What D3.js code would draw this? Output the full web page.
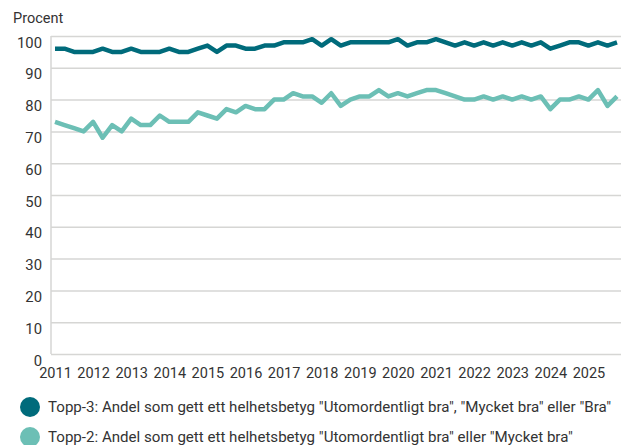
<!DOCTYPE html>
<html>
<head>
<meta charset="utf-8">
<script src="https://cdn.jsdelivr.net/npm/d3@7"></script>
<style>
  body { margin: 0; background: #fff; }
  text { font-family: Roboto, "Noto Sans", sans-serif; fill: #333; }
</style>
</head>
<body>
<script>

// quarterly values, 2011 Q1 .. 2025 Q4
const years = [2011, 2012, 2013, 2014, 2015, 2016, 2017, 2018, 2019, 2020, 2021, 2022, 2023, 2024, 2025];

const topp3 = [96, 96, 95, 95, 95, 96, 95, 95, 96, 95, 95, 95, 96, 95, 95, 96, 97, 95, 97, 97,
  96, 96, 97, 97, 98, 98, 98, 99, 97, 99, 97, 98, 98, 98, 98, 98, 99, 97, 98, 98,
  99, 98, 97, 98, 97, 98, 97, 98, 97, 98, 97, 98, 96, 97, 98, 98, 97, 98, 97, 98];

const topp2 = [73, 72, 71, 70, 73, 68, 72, 70, 74, 72, 72, 75, 73, 73, 73, 76, 75, 74, 77, 76,
  78, 77, 77, 80, 80, 82, 81, 81, 79, 82, 78, 80, 81, 81, 83, 81, 82, 81, 82, 83,
  83, 82, 81, 80, 80, 81, 80, 81, 80, 81, 80, 81, 77, 80, 80, 81, 80, 83, 78, 81];

const yTicks = [0, 10, 20, 30, 40, 50, 60, 70, 80, 90, 100];

const series = [
  { name: 'Topp-3: Andel som gett ett helhetsbetyg "Utomordentligt bra", "Mycket bra" eller "Bra"', values: topp3, color: '#006b7b' },
  { name: 'Topp-2: Andel som gett ett helhetsbetyg "Utomordentligt bra" eller "Mycket bra"', values: topp2, color: '#6cbfb5' }
];

const width = 627, height = 445;
const margin = { top: 36, right: 6, bottom: 91, left: 51 };
const innerW = width - margin.left - margin.right;
const innerH = height - margin.top - margin.bottom;

const svg = d3.select('body').append('svg')
  .attr('width', width)
  .attr('height', height);

const plot = svg.append('g')
  .attr('transform', `translate(${margin.left},${margin.top})`);

const x = d3.scaleLinear()
  .domain([0, topp3.length - 1])
  .range([4, 566]);

const y = d3.scaleLinear()
  .domain([0, 100])
  .range([innerH, 0]);

// grid + y labels
const yAxis = plot.append('g')
  .call(d3.axisLeft(y).tickValues(yTicks).tickSize(-innerW).tickPadding(9));
yAxis.select('.domain').remove();
yAxis.selectAll('.tick line')
  .attr('stroke', '#d6d6d4')
  .attr('stroke-width', 1.5);
yAxis.selectAll('.tick text')
  .attr('dy', '0.75em')
  .style('font-size', '14.8px');

// left axis line
plot.append('line')
  .attr('x1', 0).attr('x2', 0)
  .attr('y1', 0).attr('y2', innerH)
  .attr('stroke', '#d6d6d4')
  .attr('stroke-width', 1.5);

// x labels
const xAxis = plot.append('g')
  .attr('transform', `translate(0,${innerH})`)
  .call(d3.axisBottom(x)
    .tickValues(years.map((d, i) => i * 4))
    .tickFormat((d, i) => years[i])
    .tickSize(0)
    .tickPadding(14));
xAxis.select('.domain').remove();
xAxis.selectAll('.tick text').style('font-size', '14.5px');

// title
svg.append('text')
  .attr('x', 13)
  .attr('y', 23)
  .style('font-size', '14.5px')
  .text('Procent');

// lines
const line = d3.line()
  .x((d, i) => x(i))
  .y(d => y(d));

plot.selectAll('.series')
  .data(series)
  .enter().append('path')
    .attr('class', 'series')
    .attr('d', d => line(d.values))
    .attr('fill', 'none')
    .attr('stroke', d => d.color)
    .attr('stroke-width', 4.5)
    .attr('stroke-linejoin', 'round');

// legend
const legend = svg.append('g')
  .selectAll('g')
  .data(series)
  .enter().append('g')
    .attr('transform', (d, i) => `translate(0,${407 + i * 30})`);

legend.append('circle')
  .attr('cx', 30)
  .attr('cy', 0)
  .attr('r', 10)
  .attr('fill', d => d.color);

legend.append('text')
  .attr('x', 48)
  .attr('y', 0)
  .attr('dy', '0.35em')
  .style('font-size', '15.1px')
  .text(d => d.name);

</script>
</body>
</html>
